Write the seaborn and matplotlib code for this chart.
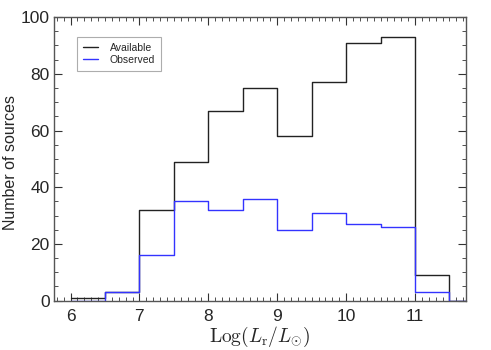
import numpy as np
import pandas as pd
import seaborn as sns
import matplotlib
matplotlib.use("Agg")
import matplotlib.pyplot as plt
from matplotlib.lines import Line2D
from matplotlib.ticker import MultipleLocator

bin_lefts = [6.0, 6.5, 7.0, 7.5, 8.0, 8.5, 9.0, 9.5, 10.0, 10.5, 11.0, 11.5]
available = [1, 3, 32, 49, 67, 75, 58, 77, 91, 93, 9, 0]
observed = [0, 3, 16, 35, 32, 36, 25, 31, 27, 26, 3, 0]
series_names = ["Available", "Observed"]
series_colors = ["#222222", "#3333ff"]

sns.set_style("white")
plt.rcParams['font.family'] = ['Liberation Sans', 'DejaVu Sans']
plt.rcParams['mathtext.fontset'] = 'cm'

binw = 0.5
edges = list(bin_lefts) + [bin_lefts[-1] + binw]
centers = [b + binw / 2 for b in bin_lefts]
df = pd.DataFrame({"x": centers, "Available": available, "Observed": observed})

fig = plt.figure(figsize=(4.91, 3.5), dpi=100)
ax = fig.add_axes([0.110, 0.141, 0.839, 0.810])

for name, col in zip(series_names, series_colors):
    sns.histplot(data=df, x="x", weights=name, bins=edges, element="step",
                 fill=False, color=col, linewidth=1.0, ax=ax)

ax.set_xlim(5.76, 11.74)
ax.set_ylim(0, 100)
ax.xaxis.set_major_locator(MultipleLocator(1))
ax.xaxis.set_minor_locator(MultipleLocator(0.1))
ax.yaxis.set_major_locator(MultipleLocator(20))
ax.yaxis.set_minor_locator(MultipleLocator(5))
ax.tick_params(which='both', direction='in', top=True, right=True,
               bottom=True, left=True, color='#333333')
ax.tick_params(which='major', length=6, width=0.8, labelsize=12.5)
ax.tick_params(axis='x', which='major', pad=6)
ax.tick_params(axis='y', which='major', pad=3)
ax.tick_params(which='minor', length=3, width=0.6)
for s in ax.spines.values():
    s.set_color('#555555')
    s.set_linewidth(1.0)

ax.set_ylabel("Number of sources", fontsize=11.5)
ax.yaxis.set_label_coords(-0.087, 0.487)
ax.set_xlabel(r'$\mathrm{Log}(L_{\rm r}/L_{\odot})$', fontsize=14, labelpad=1)

handles = [Line2D([0], [0], color=c, lw=1.0) for c in series_colors]
leg = ax.legend(handles, series_names, loc='upper left',
                bbox_to_anchor=(0.057, 0.93), fontsize=7.5, frameon=True,
                fancybox=False, handlelength=1.45, handletextpad=1.1,
                borderpad=0.55, labelspacing=0.2, borderaxespad=0)
leg.get_frame().set_edgecolor('#999999')
leg.get_frame().set_linewidth(0.8)

fig.savefig("out.png", dpi=100)
